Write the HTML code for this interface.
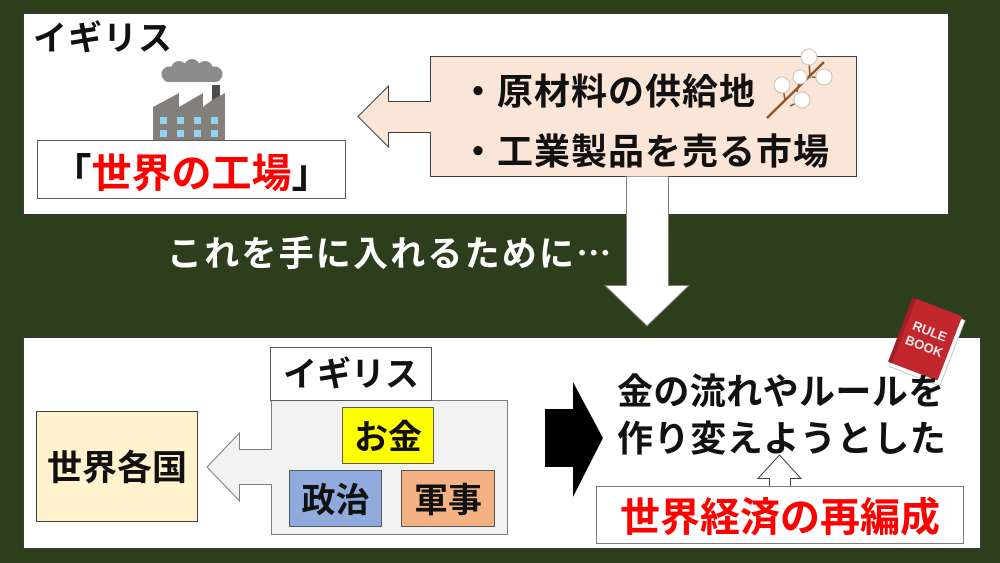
<!DOCTYPE html>
<html><head><meta charset="utf-8">
<style>
html,body{margin:0;padding:0;}
body{width:1000px;height:563px;background:#2c3e1c;position:relative;overflow:hidden;font-family:"Liberation Sans","Noto Sans CJK JP",sans-serif;}
svg{position:absolute;left:0;top:0;}
.t{position:absolute;white-space:nowrap;font-family:"Noto Sans CJK JP","Liberation Sans",sans-serif;font-weight:700;color:#111;}
.c{display:flex;align-items:center;justify-content:center;}
</style></head><body>
<svg width="1000" height="563" viewBox="0 0 1000 563">
  <!-- top panel -->
  <rect x="23.5" y="13.5" width="925" height="201" fill="#fff" stroke="#3a3a3a" stroke-width="1"/>
  <!-- factory -->
  <g>
    <circle cx="169" cy="74" r="7.5" fill="#8c8c8c"/>
    <circle cx="179" cy="69" r="8" fill="#8c8c8c"/>
    <circle cx="192" cy="67" r="8" fill="#8c8c8c"/>
    <circle cx="205" cy="69" r="8" fill="#8c8c8c"/>
    <circle cx="215" cy="74" r="7.5" fill="#8c8c8c"/>
    <rect x="163" y="70" width="58" height="12" rx="5" fill="#8c8c8c"/>
    <rect x="212" y="85" width="8" height="20" fill="#4d4d4d"/>
    <path d="M153,140 L153,107 L179,93 L179,107 L203,93 L203,107 L212,100 L225,93 L225,140 Z" fill="#857f7a"/>
    <g fill="#8fd3f5">
      <rect x="160" y="117" width="7" height="7"/><rect x="177" y="117" width="7" height="7"/><rect x="194" y="117" width="7" height="7"/><rect x="211" y="117" width="7" height="7"/>
      <rect x="160" y="130" width="7" height="7"/><rect x="177" y="130" width="7" height="7"/><rect x="194" y="130" width="7" height="7"/><rect x="211" y="130" width="7" height="7"/>
    </g>
  </g>
  <!-- 世界の工場 box -->
  <rect x="37.5" y="140.5" width="308" height="58" fill="#fff" stroke="#5a5a5a" stroke-width="1"/>
  <!-- beige arrow box -->
  <path d="M430.5,56.5 L856.5,56.5 L856.5,176.5 L430.5,176.5 L430.5,132.5 L388.5,132.5 L388.5,147 L358,116.5 L388.5,86 L388.5,101.5 L430.5,101.5 Z" fill="#fbe5d6" stroke="#404040" stroke-width="1"/>
  <!-- cotton -->
  <g>
    <path d="M767,118 L824,62" stroke="#8b5a2b" stroke-width="2.5" fill="none"/>
    <path d="M785,100 L783,88 M797,92 L800,78 M810,78 L809,60 M812,77 L823,78 M790,106 L801,101" stroke="#8b5a2b" stroke-width="1.6" fill="none"/>
    <g fill="#fff" stroke="#c9c2b8" stroke-width="1">
      <circle cx="809" cy="57" r="8"/>
      <circle cx="800" cy="77" r="7"/>
      <circle cx="824" cy="77" r="8"/>
      <circle cx="782" cy="85" r="8"/>
      <circle cx="802" cy="100" r="8"/>
    </g>
  </g>
  <!-- down arrow -->
  <path d="M626.5,176.5 L626.5,285.5 L605,285.5 L647,326 L689,285.5 L668.5,285.5 L668.5,176.5" fill="#fff" stroke="#7f7f7f" stroke-width="1"/>
  <!-- bottom panel -->
  <rect x="23.5" y="337.5" width="957" height="211" fill="#fff" stroke="#3a3a3a" stroke-width="1"/>
  <!-- gray shape with arrow -->
  <path d="M271.5,400.5 L507.5,400.5 L507.5,534.5 L271.5,534.5 L271.5,484.5 L239.5,484.5 L239.5,501 L207,467 L239.5,433 L239.5,449.5 L271.5,449.5 Z" fill="#f2f2f2" stroke="#7f7f7f" stroke-width="1"/>
  <rect x="270.5" y="347.5" width="161" height="53" fill="#fff" stroke="#595959" stroke-width="1"/>
  <rect x="342.5" y="407.5" width="91" height="56" fill="#ffff00" stroke="#595959" stroke-width="1"/>
  <rect x="289.5" y="470.5" width="92" height="56" fill="#8faadc" stroke="#595959" stroke-width="1"/>
  <rect x="401.5" y="470.5" width="93" height="56" fill="#f4b183" stroke="#595959" stroke-width="1"/>
  <rect x="36.5" y="411.5" width="161" height="110" fill="#fff2cc" stroke="#404040" stroke-width="1"/>
  <!-- black arrow -->
  <path d="M545,409 L573,409 L573,382 L603,438 L573,497 L573,467 L545,467 Z" fill="#000"/>
  <!-- up arrow -->
  <path d="M769.5,486.5 L769.5,478.5 L758,478.5 L779.5,455 L801,478.5 L790.5,478.5 L790.5,486.5" fill="#fff" stroke="#404040" stroke-width="1"/>
  <rect x="596.5" y="486.5" width="367" height="57" fill="#fff" stroke="#7f7f7f" stroke-width="1"/>
  <!-- rule book -->
  <g transform="translate(926,341) rotate(21)">
    <rect x="-25" y="-33" width="54" height="70" fill="#fff" stroke="#c8c8c8" stroke-width="1"/>
    <rect x="-28" y="-36" width="53" height="69" rx="2" fill="#c1272d"/>
    <rect x="-28" y="-36" width="4" height="69" fill="#a11e24"/>
    <text x="0" y="-6" text-anchor="middle" font-family="Liberation Sans, sans-serif" font-weight="700" font-size="13" fill="#f4e9e9">RULE</text>
    <text x="0" y="10" text-anchor="middle" font-family="Liberation Sans, sans-serif" font-weight="700" font-size="13" fill="#f4e9e9">BOOK</text>
  </g>
</svg>

<div class="t" style="left:33px;top:19px;font-size:34px;line-height:34px;letter-spacing:1px;">イギリス</div>
<div class="t c" style="left:37px;top:145px;width:309px;height:50px;font-size:40px;line-height:50px;"><span>「<span style="color:#ff0000">世界の工場</span>」</span></div>
<div class="t" style="left:460px;top:71px;font-size:36px;line-height:36px;letter-spacing:1px;">・原材料の供給地</div>
<div class="t" style="left:460px;top:131px;font-size:36px;line-height:36px;letter-spacing:1px;">・工業製品を売る市場</div>
<div class="t" style="left:167px;top:234px;font-size:35px;line-height:35px;letter-spacing:2.2px;color:#fff;">これを手に入れるために…</div>

<div class="t c" style="left:270px;top:353px;width:162px;height:38px;font-size:34px;line-height:38px;">イギリス</div>
<div class="t c" style="left:342px;top:416px;width:92px;height:38px;font-size:34px;line-height:38px;">お金</div>
<div class="t c" style="left:289px;top:479px;width:93px;height:38px;font-size:34px;line-height:38px;">政治</div>
<div class="t c" style="left:401px;top:479px;width:94px;height:38px;font-size:34px;line-height:38px;">軍事</div>
<div class="t c" style="left:36px;top:447px;width:162px;height:38px;font-size:35px;line-height:38px;">世界各国</div>

<div class="t" style="left:617px;top:371px;font-size:36px;line-height:36px;letter-spacing:0.4px;">金の流れやルールを</div>
<div class="t" style="left:617px;top:418px;font-size:36px;line-height:36px;letter-spacing:0.6px;">作り変えようとした</div>
<div class="t c" style="left:596px;top:493px;width:368px;height:42px;font-size:40px;line-height:42px;color:#ff0000;">世界経済の再編成</div>
</body></html>
